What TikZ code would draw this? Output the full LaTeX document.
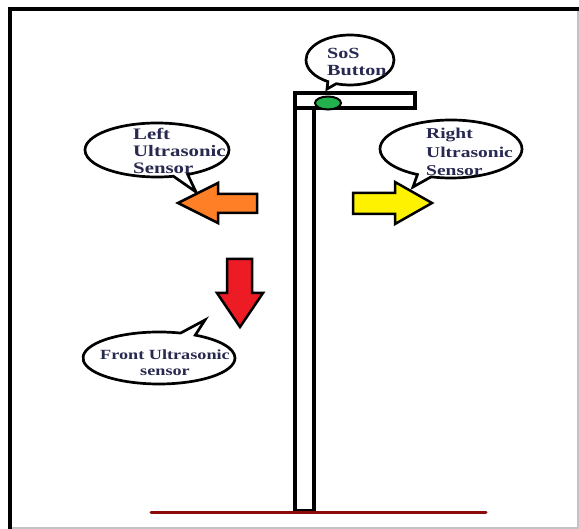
\documentclass[tikz,border=0pt]{standalone}
\usepackage{fontspec}
\setmainfont{Liberation Serif}[FakeStretch=1.3]
\usetikzlibrary{shapes.callouts,shapes.geometric}
\definecolor{txt}{RGB}{40,40,80}
\definecolor{pgreen}{RGB}{34,177,76}
\definecolor{porange}{RGB}{255,127,39}
\definecolor{pyellow}{RGB}{255,242,0}
\definecolor{pred}{RGB}{237,28,36}
\definecolor{ground}{RGB}{140,10,10}
\definecolor{shadow}{RGB}{195,195,195}
\begin{document}
\begin{tikzpicture}[x=1pt,y=-1pt,
  bubble/.style={ellipse callout, draw=black, line width=2.7pt, fill=white, inner sep=0pt, callout pointer arc=12},
  lbl/.style={text=txt, inner sep=0pt, font=\fontsize{14}{16.5}\selectfont\bfseries},
  arrowshape/.style={draw=black, line width=2.5pt, line join=miter},
  polebox/.style={draw=black, line width=4pt}]
\useasboundingbox (0,0) rectangle (579,529);
% frame
\draw[shadow, line width=1.5pt] (578,9.5) -- (578,528) -- (9.5,528);
\draw[black, line width=4pt] (9.5,529) -- (9.5,9.5) -- (579,9.5);
% ground
\coordinate (g1) at (151,513);
\coordinate (g2) at (486,513);
% pole
\draw[polebox] (295,108) rectangle (314,511);
\draw[polebox, fill=white] (295,93.5) rectangle (415,108);
\draw[ground, line width=3pt, line cap=round] (g1) -- (g2);
\node[draw=black, line width=2pt, fill=pgreen, ellipse, minimum width=26, minimum height=13, inner sep=0pt] (btn) at (328,103) {};
% bubbles
\node[bubble, minimum width=88, minimum height=50, callout absolute pointer={(327,89)}] (sosb) at (350,60) {};
\node[lbl, align=left, anchor=west, font=\fontsize{15.5}{17}\selectfont\bfseries] (sost) at (327,62) {SoS\\Button};
\node[bubble, minimum width=144, minimum height=54, callout absolute pointer={(196,192)}] (lb) at (157,150) {};
\node[lbl, align=left, anchor=west, font=\fontsize{16}{17}\selectfont\bfseries] (lt) at (133,151) {Left\\Ultrasonic\\Sensor};
\node[bubble, minimum width=142, minimum height=58, callout absolute pointer={(413,187)}] (rb) at (451,149) {};
\node[lbl, align=left, anchor=west, font=\fontsize{15}{18.5}\selectfont\bfseries] (rt) at (426,152) {Right\\Ultrasonic\\Sensor};
\node[bubble, minimum width=152, minimum height=52, callout absolute pointer={(205,320)}] (fb) at (159,358) {};
\node[lbl, align=center, font=\fontsize{14}{16}\selectfont\bfseries] (ft) at (165,363) {Front Ultrasonic\\sensor};
% arrows
\draw[arrowshape, fill=porange] (257,194) -- (218,194) -- (218,183) -- (178,203) -- (218,223) -- (218,213) -- (257,213) -- cycle;
\draw[arrowshape, fill=pyellow] (353,193) -- (395,193) -- (395,182) -- (432,203) -- (395,224) -- (395,214) -- (353,214) -- cycle;
\draw[arrowshape, fill=pred] (227,259) -- (252,259) -- (252,293) -- (263,293) -- (240,327) -- (217,293) -- (227,293) -- cycle;
\end{tikzpicture}
\end{document}
